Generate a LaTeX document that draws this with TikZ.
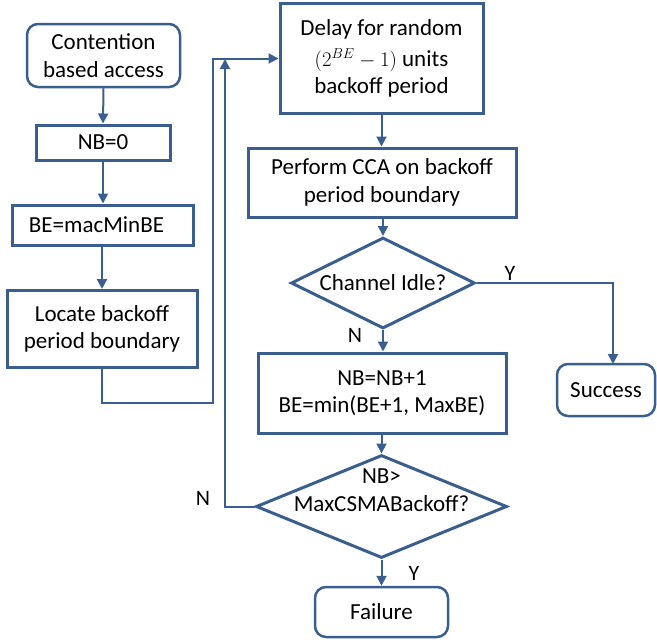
\documentclass[tikz,border=0pt]{standalone}
\usepackage{fontspec}
\setmainfont{Carlito}
\usetikzlibrary{shapes.geometric,arrows.meta}
\definecolor{fb}{HTML}{3A5F8F}
\begin{document}
\begin{tikzpicture}[x=1pt,y=-1pt,
  every node/.style={font=\fontsize{23}{27.5}\selectfont, text=black, align=center, inner sep=0pt},
  procbox/.style={draw=fb, line width=3pt, rectangle},
  termbox/.style={draw=fb, line width=2.5pt, rectangle, rounded corners=11pt},
  decbox/.style={draw=fb, line width=3pt, diamond},
  conn/.style={draw=fb, line width=2pt, -{Triangle[width=10pt,length=10pt]}},
  lbl/.style={font=\fontsize{22}{26}\selectfont}]
\useasboundingbox (0,0) rectangle (657,643);
\node[termbox, minimum width=153pt, minimum height=63pt] (cont) at (103.5,55.5) {Contention\\based access};
\node[procbox, minimum width=134pt, minimum height=35pt] (nb0) at (103,142.5) {NB=0};
\node[procbox, minimum width=181pt, minimum height=40pt] (be) at (102.5,225) {BE=macMinBE\hspace{12pt}};
\node[procbox, minimum width=190pt, minimum height=77pt] (loc) at (102,329) {Locate backoff\\period boundary};
\node[procbox, minimum width=203pt, minimum height=110pt] (delay) at (381.5,58.5) {Delay for random\\[3pt]{\fontsize{22}{27.5}\selectfont\((2^{BE}-1)\)} units\\backoff period};
\node[procbox, minimum width=268pt, minimum height=69pt] (cca) at (382,182.5) {Perform CCA on backoff\\period boundary};
\node[decbox, minimum width=184pt, minimum height=91pt] (idle) at (383,283) {};
\node (idletxt) at (383,283) {Channel Idle?};
\node[procbox, minimum width=248pt, minimum height=80pt] (nbnb) at (382,393) {NB=NB+1\\BE=min(BE+1, MaxBE)};
\node[decbox, minimum width=251pt, minimum height=103pt] (maxd) at (381.5,506.5) {};
\node (maxtxt) at (381.5,490) {NB>\\MaxCSMABackoff?};
\node[termbox, minimum width=133pt, minimum height=50pt] (fail) at (381.5,612) {Failure};
\node[termbox, minimum width=98pt, minimum height=52pt] (succ) at (606,390) {Success};
\node[lbl] (ylab1) at (510,273) {Y};
\node[lbl] (nlab1) at (355,335) {N};
\node[lbl] (nlab2) at (203,498) {N};
\node[lbl] (ylab2) at (414,573) {Y};
\coordinate (c2) at (213,403);
\coordinate (c5) at (225,59);
\coordinate (s) at (613,364);
\draw[conn] (cont.south) -- (nb0.north);
\draw[conn] (nb0.south) -- (nb0.south |- be.north);
\draw[conn] (be.south -| loc.north) -- (loc.north);
\draw[conn] (loc.south) |- (c2) |- (delay.west);
\draw[conn] (delay.south) -- (delay.south |- cca.north);
\draw[conn] (cca.south -| idle.north) -- (idle.north);
\draw[conn] (idle.east) -| (s);
\draw[conn] (idle.south) -- (idle.south |- nbnb.north);
\draw[conn] (nbnb.south -| maxd.north) -- (maxd.north);
\draw[conn] (maxd.south) -- (maxd.south |- fail.north);
\draw[conn] (maxd.west) -| (c5);
\end{tikzpicture}
\end{document}
